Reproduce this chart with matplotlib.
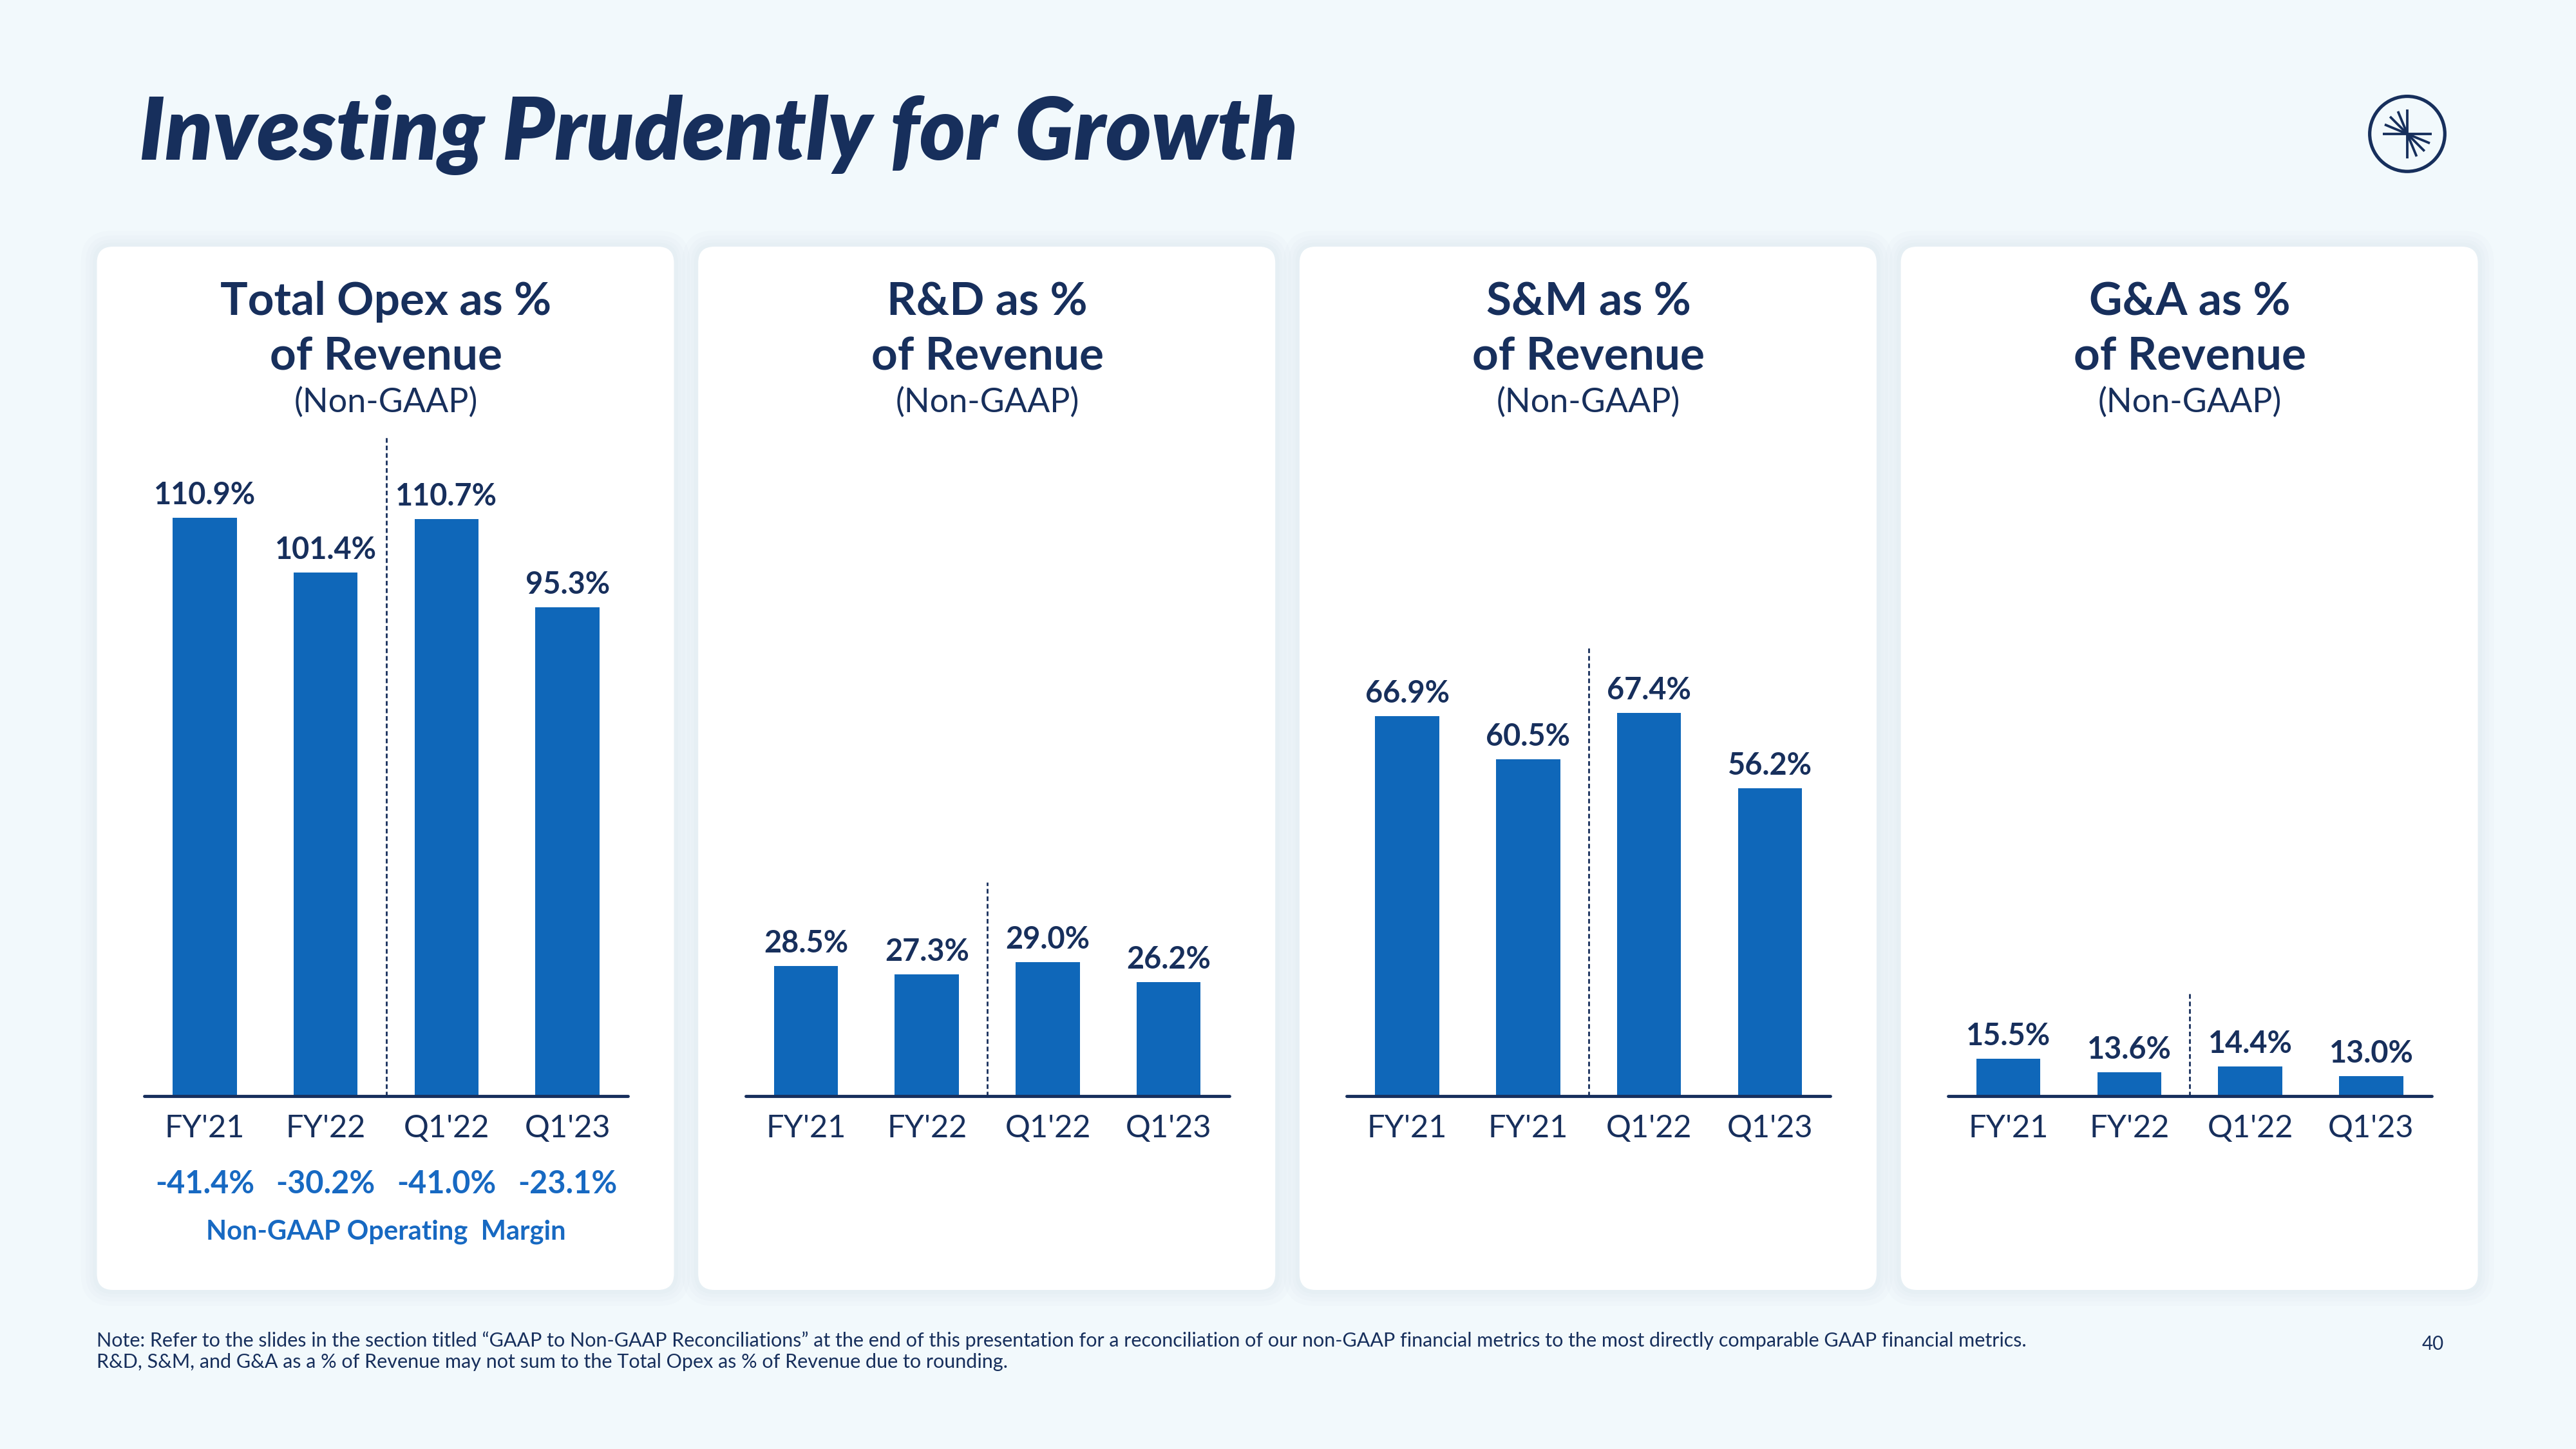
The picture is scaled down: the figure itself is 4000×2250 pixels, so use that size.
import matplotlib.pyplot as plt
from matplotlib.patches import FancyBboxPatch, Circle
import numpy as np

# data
periods = ["FY'21", "FY'22", "Q1'22", "Q1'23"]
sm_periods = ["FY'21", "FY'21", "Q1'22", "Q1'23"]  # label typo kept as on the slide
opex_pct = [110.9, 101.4, 110.7, 95.3]
rnd_pct = [28.5, 27.3, 29.0, 26.2]
snm_pct = [66.9, 60.5, 67.4, 56.2]
gna_pct = [15.5, 13.6, 14.4, 13.0]
op_margin = [-41.4, -30.2, -41.0, -23.1]

headings = ["Total Opex as %", "R&D as %", "S&M as %", "G&A as %"]

note_1 = ("Note: Refer to the slides in the section titled \u201cGAAP to Non-GAAP Reconciliations\u201d at the end of this "
          "presentation for a reconciliation of our non-GAAP financial metrics to the most directly comparable GAAP financial metrics.")
note_2 = "R&D, S&M, and G&A as a % of Revenue may not sum to the Total Opex as % of Revenue due to rounding."

# colours
bg = '#f2f9fc'
navy = '#172f5c'
bar_blue = '#0f67b9'
margin_blue = '#1769c2'

plt.rcParams['font.family'] = ['Lato', 'DejaVu Sans']

fig = plt.figure(figsize=(16, 9), dpi=250)
fig.patch.set_facecolor(bg)

fig.text(0.054, 0.907, 'Investing Prudently for Growth', fontsize=39, fontweight='heavy',
         fontstyle='italic', color=navy, va='center', ha='left')

# panels (inches in a 16x9 figure)
panel_w = 3.584
panel_h = 6.48
panel_y = 0.988
step = 933.7 / 250
for i in range(4):
    x0 = 0.602 + i * step
    for k in [0.10, 0.07, 0.045, 0.025]:
        sh = FancyBboxPatch((x0 - k, panel_y - k), panel_w + 2 * k, panel_h + 2 * k,
                            boxstyle='round,pad=0,rounding_size=%f' % (0.1 + k),
                            transform=fig.dpi_scale_trans, facecolor='#b9ccd6', edgecolor='none',
                            alpha=0.05, zorder=0.3)
        fig.add_artist(sh)
    box = FancyBboxPatch((x0, panel_y), panel_w, panel_h, boxstyle='round,pad=0,rounding_size=0.1',
                         transform=fig.dpi_scale_trans, facecolor='white', edgecolor='none', zorder=0.5)
    fig.add_artist(box)

series = [opex_pct, rnd_pct, snm_pct, gna_pct]
labels = [periods, periods, sm_periods, periods]
floor = [10.0, 10.1, 10.2, 10.2]
px_per_pct = [8.9, 11.0, 10.4, 11.0]
dash_top = [125.3, 40.3, 77.4, 24.7]

ax_bottom = 1 - 1702 / 2250
ax_h_px = 1052
ax_h = ax_h_px / 2250
ax_w = (975 - 224) / 4000

for i in range(4):
    left = 0.056 + i * 0.2334
    ax = fig.add_axes([left, ax_bottom, ax_w, ax_h], zorder=2)
    ax.patch.set_alpha(0)
    x = np.arange(4)
    vals = series[i]
    ax.bar(x, vals, width=0.53, color=bar_blue, zorder=2)
    ax.set_xlim(-0.5, 3.5)
    ax.set_ylim(floor[i], floor[i] + ax_h_px / px_per_pct[i])
    for xi, v in zip(x, vals):
        ax.annotate(f'{v:.1f}%', (xi, v), xytext=(0, 6), textcoords='offset points',
                    ha='center', va='baseline', fontsize=13.5, fontweight='bold', color=navy)
    ax.plot([1.5, 1.5], [floor[i], dash_top[i]], color=navy, lw=0.8,
            linestyle=(0, (2.6, 1.6)), zorder=1)
    ax.plot([-0.5, 3.5], [floor[i], floor[i]], color=navy, lw=1.4,
            solid_capstyle='round', clip_on=False, zorder=3)
    for s in ax.spines.values():
        s.set_visible(False)
    ax.set_yticks([])
    ax.set_xticks(x)
    ax.set_xticklabels(labels[i], fontsize=14, fontweight='normal', color=navy)
    ax.tick_params(axis='x', length=0, pad=8)

    cx = left + ax_w / 2
    fig.text(cx, 0.7916, headings[i], ha='center', va='center', fontsize=20.5,
             fontweight='bold', color=navy)
    fig.text(cx, 0.7538, 'of Revenue', ha='center', va='center', fontsize=20.5,
             fontweight='bold', color=navy)
    fig.text(cx, 0.7222, '(Non-GAAP)', ha='center', va='center', fontsize=15,
             fontweight='normal', color=navy)

    if i == 0:
        for xi, m in zip(x, op_margin):
            ax.text(xi, -0.130, f'{m:.1f}%', transform=ax.get_xaxis_transform(),
                    ha='center', va='center', fontsize=14, fontweight='bold', color=margin_blue)
        fig.text(cx, 0.1498, 'Non-GAAP Operating  Margin', ha='center', va='center',
                 fontsize=12, fontweight='bold', color=margin_blue)

# logo
lax = fig.add_axes([0.9345 - 0.0175, 0.9076 - 0.0311, 0.035, 0.0622], zorder=3)
lax.set_xlim(-1.2, 1.2)
lax.set_ylim(-1.2, 1.2)
lax.axis('off')
lax.add_patch(Circle((0, 0), 1.0, fill=False, edgecolor=navy, lw=1.5))
r = 0.65
lax.plot([-r, r], [0, 0], color=navy, lw=1.1, solid_capstyle='butt')
lax.plot([0, 0], [-r, r], color=navy, lw=1.1, solid_capstyle='butt')
for ang in [22.5, 45, 67.5]:
    t = np.deg2rad(ang)
    lax.plot([0, -r * np.cos(t)], [0, r * np.sin(t)], color=navy, lw=1.1, solid_capstyle='butt')
    lax.plot([0, r * np.cos(t)], [0, -r * np.sin(t)], color=navy, lw=1.1, solid_capstyle='butt')

fig.text(0.0376, 1 - 2082 / 2250, note_1, ha='left', va='center', fontsize=8.8, color=navy)
fig.text(0.0376, 1 - 2115 / 2250, note_2, ha='left', va='center', fontsize=8.8, color=navy)
fig.text(0.9445, 1 - 2087 / 2250, '40', ha='center', va='center', fontsize=8.5, color=navy)

fig.savefig('out.png', dpi=250, facecolor=bg)
